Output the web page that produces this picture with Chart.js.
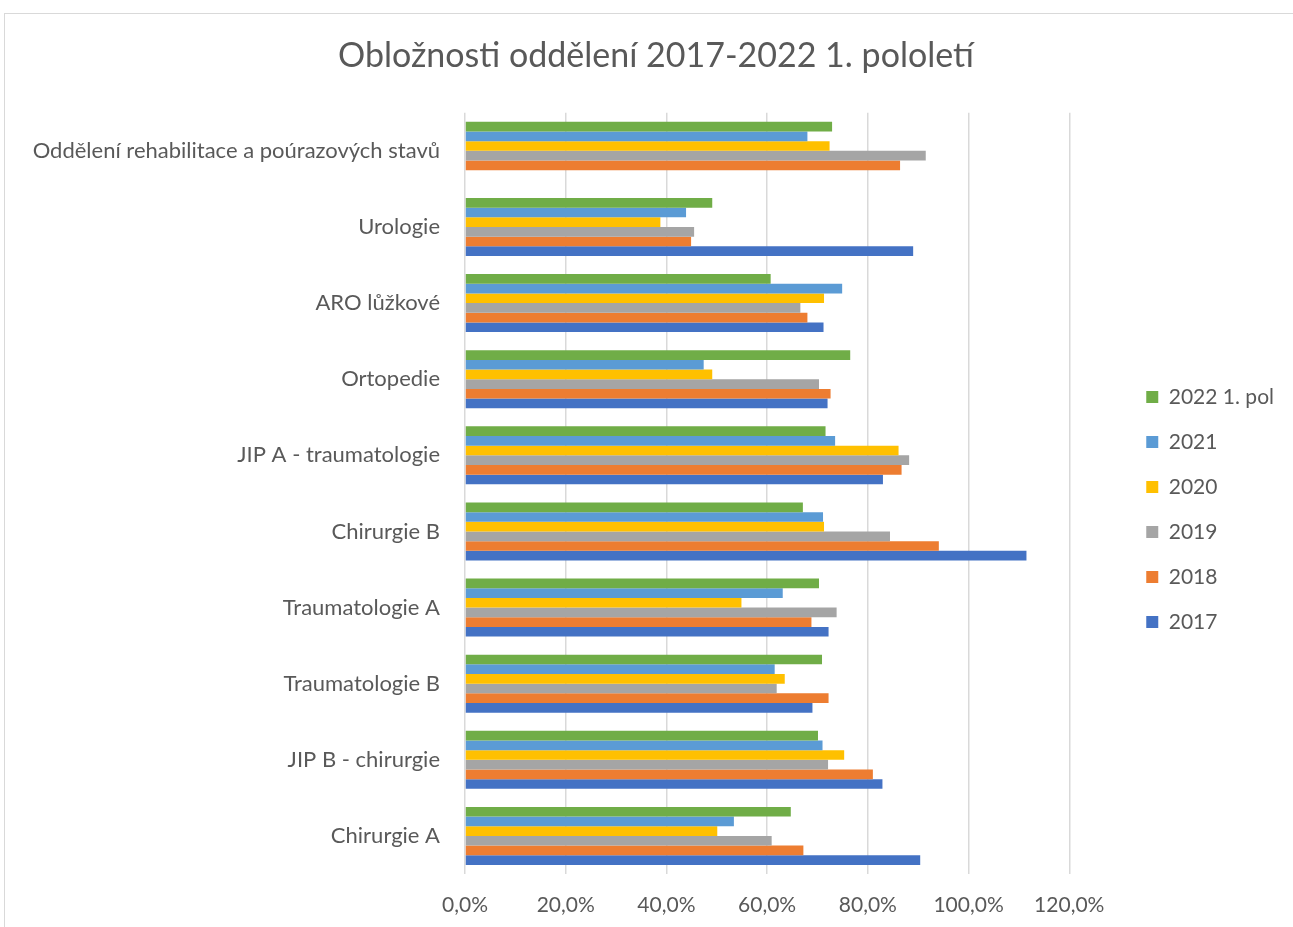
<!DOCTYPE html>
<html>
<head>
<meta charset="utf-8">
<script src="https://cdn.jsdelivr.net/npm/chart.js@4"></script>
<style>
  html, body { margin: 0; padding: 0; background: #fff; overflow: hidden; }
  #frame {
    position: absolute; left: 4px; top: 13px;
    width: 1400px; height: 1000px;
    border: 1px solid #d9d9d9;
  }
  #wrap { position: absolute; left: 0; top: 0; width: 1293px; height: 927px; }
</style>
</head>
<body>
<div id="frame"></div>
<div id="wrap"><canvas id="occupancy-graph"></canvas></div>
<script>
const categories = [
  'Oddělení rehabilitace a poúrazových stavů',
  'Urologie',
  'ARO lůžkové',
  'Ortopedie',
  'JIP A - traumatologie',
  'Chirurgie B',
  'Traumatologie A',
  'Traumatologie B',
  'JIP B - chirurgie',
  'Chirurgie A'
];

const seriesLabels = ['2022 1. pol', '2021', '2020', '2019', '2018', '2017'];

const values2022 = [72.9, 49.1, 60.7, 76.5, 71.6, 67.1, 70.3, 70.9, 70.1, 64.7];
const values2021 = [68.0, 43.9, 74.9, 47.4, 73.5, 71.1, 63.1, 61.5, 71.0, 53.4];
const values2020 = [72.4, 38.8, 71.3, 49.1, 86.1, 71.3, 54.9, 63.5, 75.3, 50.1];
const values2019 = [91.5, 45.5, 66.6, 70.3, 88.2, 84.4, 73.8, 61.9, 72.1, 60.9];
const values2018 = [86.4, 44.9, 68.0, 72.6, 86.7, 94.1, 68.8, 72.2, 81.0, 67.2];
const values2017 = [null, 89.0, 71.2, 72.0, 83.0, 111.5, 72.2, 69.0, 82.9, 90.4];

const xTicks = [0, 20, 40, 60, 80, 100, 120];

const COLORS = ['#70AD47', '#5B9BD5', '#FFC000', '#A5A5A5', '#ED7D31', '#4472C4'];
const TEXT = '#595959';
const FONT = 'Lato, "Open Sans", sans-serif';

let occupancyGraph = null;

// legend sits in the right margin, title centred over the whole chart like in Excel
const excelPlacer = {
  id: 'excelPlacer',
  afterLayout(chart) {
    const area = chart.chartArea;
    const lg = chart.legend;
    const h = lg.bottom - lg.top;
    const mid = (area.top + area.bottom) / 2 + 16;
    lg.left = area.right + 77 - lg.options.labels.padding;
    lg.right = lg.left + lg.width;
    lg.top = mid - h / 2;
    lg.bottom = lg.top + h;

    const tb = chart.titleBlock;
    tb.left = 0;
    tb.right = 1312;
  }
};

document.addEventListener('DOMContentLoaded', function () {
  renderOccupancyGraph();
});

function renderOccupancyGraph() {
  const ctx = document.getElementById('occupancy-graph').getContext('2d');
  const allValues = [values2022, values2021, values2020, values2019, values2018, values2017];

  const datasets = seriesLabels.map((label, i) => ({
    label: label,
    data: allValues[i],
    backgroundColor: COLORS[i],
    borderWidth: 0,
    categoryPercentage: 0.762,
    barPercentage: 1.0
  }));

  occupancyGraph = new Chart(ctx, {
    type: 'bar',
    data: {
      labels: categories,
      datasets: datasets
    },
    plugins: [excelPlacer],
    options: {
      indexAxis: 'y',
      responsive: true,
      maintainAspectRatio: false,
      animation: false,
      layout: { padding: { left: 0, right: 62, top: 0, bottom: 0 } },
      scales: {
        x: {
          min: 0,
          max: 120,
          afterBuildTicks: scale => { scale.ticks = xTicks.map(v => ({ value: v })); },
          afterFit: scale => { scale.height = 53; },
          grid: { color: '#d9d9d9', lineWidth: 1.5, drawTicks: false },
          border: { display: false },
          ticks: {
            color: TEXT,
            font: { family: FONT, size: 21 },
            padding: 19,
            maxRotation: 0,
            callback: value => value.toFixed(1).replace('.', ',') + '%'
          }
        },
        y: {
          grid: { display: false, drawTicks: false },
          border: { display: false },
          afterFit: scale => { scale.width = 465; },
          ticks: {
            color: TEXT,
            autoSkip: false,
            font: { family: FONT, size: 22 },
            padding: 25
          }
        }
      },
      plugins: {
        title: {
          display: true,
          text: 'Obložnosti oddělení 2017-2022 1. pololetí',
          color: TEXT,
          font: { family: FONT, size: 34, weight: 'normal' },
          padding: { top: 36, bottom: 36 }
        },
        legend: {
          position: 'right',
          labels: {
            color: TEXT,
            font: { family: FONT, size: 21 },
            boxWidth: 12,
            boxHeight: 12,
            padding: 24
          }
        },
        tooltip: { enabled: false }
      }
    }
  });
}
</script>
</body>
</html>
